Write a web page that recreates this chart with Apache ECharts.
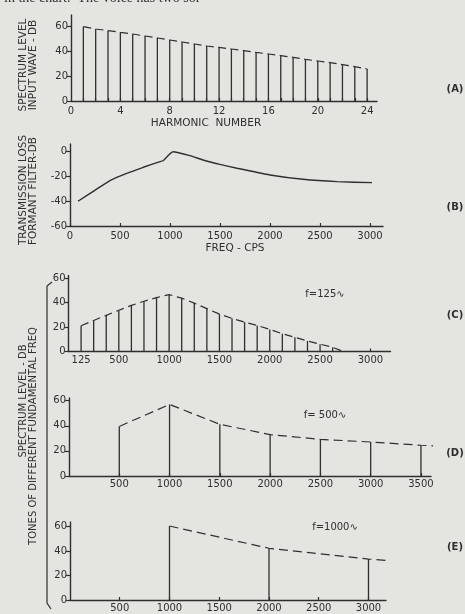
<!DOCTYPE html>
<html><head><meta charset="utf-8">
<script src="https://cdn.jsdelivr.net/npm/echarts@6/dist/echarts.min.js"></script>
<style>html,body{margin:0;padding:0;background:#e4e4e1;}#c{width:465px;height:614px;}</style>
</head><body><div id="c"></div>
<script>
// ---- data ----
const harmonicNumbers = [1,2,3,4,5,6,7,8,9,10,11,12,13,14,15,16,17,18,19,20,21,22,23,24];
const inputWaveDb = [59.5,57.6,56.3,54.9,53.6,52,50.4,48.8,47.2,45.6,44,42.9,41.6,40.3,38.9,37.6,36.3,34.9,33.3,32,30.7,29.1,27.5,25.6];
const harmonicTicks = [0,4,8,12,16,20,24];

const filterFreqCps = [80,233,400,567,733,900,930,1030,1200,1330,1500,1670,2000,2330,2670,3020];
const filterLossDb = [-40,-32,-23.3,-17.5,-12.6,-8,-7.3,0,-3.2,-6.7,-10.3,-13.4,-18.8,-22.3,-24.2,-25];
const filterFreqTicks = [0,500,1000,1500,2000,2500,3000];
const filterDbTicks = [-60,-40,-20,0];

const f125Freq = [125,250,375,500,625,750,875,1000,1125,1250,1375,1500,1625,1750,1875,2000,2125,2250,2375,2500,2625];
const f125Db = [21,25.3,29.5,33.6,37.6,41,44,46.4,43.5,39.5,35,30.5,27,24,21.2,18,14.5,11.6,8.6,6,3.4];
const f125EnvEnd = [2730, 0];
const f125Ticks = [125,500,1000,1500,2000,2500,3000];

const f500Freq = [500,1000,1500,2000,2500,3000,3500];
const f500Db = [39.5,57,41.2,33,29.2,27.1,24.5];
const f500EnvEnd = [3640, 24];
const f500Ticks = [500,1000,1500,2000,2500,3000,3500];

const f1000Freq = [1000,2000,3000];
const f1000Db = [60.5,42.3,33.5];
const f1000EnvEnd = [3400, 31];
const f1000Ticks = [500,1000,1500,2000,2500,3000];

const dbTicks = [0,20,40,60];

// ---- styling ----
const ink = '#2f2f2f';
const FONT = 'DejaVu Sans';
const chart = echarts.init(document.getElementById('c'), null, {renderer:'canvas'});

function pairs(xs, ys){ return xs.map((x,i)=>[x, ys[i]]); }
const plain = v => String(v);

function xAxisCfg(grid, min, max, labels, ticks, margin){
  return {type:'value', gridIndex:grid, min:min, max:max,
    axisLine:{show:true, onZero:false, lineStyle:{color:ink, width:1.4}},
    axisTick:{show:true, inside:true, length:3, customValues:ticks, lineStyle:{color:ink, width:1.2}},
    axisLabel:{customValues:labels, formatter:plain, color:ink, fontFamily:FONT, fontSize:10, margin:margin},
    splitLine:{show:false}};
}
function yAxisCfg(grid, min, max, labels){
  return {type:'value', gridIndex:grid, min:min, max:max,
    axisLine:{show:true, onZero:false, lineStyle:{color:ink, width:1.4}},
    axisTick:{show:true, inside:false, length:4, customValues:labels, lineStyle:{color:ink, width:1.2}},
    axisLabel:{customValues:labels, formatter:plain, color:ink, fontFamily:FONT, fontSize:10, margin:3},
    splitLine:{show:false}};
}
function stems(idx, data){
  return {type:'custom', xAxisIndex:idx, yAxisIndex:idx, data:data, silent:true,
    encode:{x:0, y:1},
    renderItem:function(params, api){
      const p0 = api.coord([api.value(0), 0]);
      const p1 = api.coord([api.value(0), api.value(1)]);
      return {type:'line', shape:{x1:p0[0], y1:p0[1], x2:p1[0], y2:p1[1]},
        style:{stroke:ink, lineWidth:1.3}};
    }};
}
function envelope(idx, data, dash){
  return {type:'line', xAxisIndex:idx, yAxisIndex:idx, data:data, showSymbol:false, silent:true,
    lineStyle:{color:ink, width:1.2, type:dash}};
}
function txt(x, y, s, size, rot, weight){
  return {type:'text', x:x, y:y, rotation:rot||0, silent:true,
    style:{text:s, fill:ink, font:(weight||'normal')+' '+size+'px "'+FONT+'"', textAlign:'center', textVerticalAlign:'middle'}};
}

const option = {
  backgroundColor:'#e4e4e1',
  animation:false,
  grid:[
    {left:71, top:15, width:306, height:86},
    {left:70, top:144, width:313, height:82},
    {left:68.5, top:275.5, width:322, height:76},
    {left:69, top:398, width:362, height:78},
    {left:70, top:522, width:316, height:78}
  ],
  xAxis:[
    xAxisCfg(0, 0, 24.8, harmonicTicks, harmonicNumbers, 5),
    xAxisCfg(1, 0, 3130, filterFreqTicks, filterFreqTicks, 5),
    xAxisCfg(2, 0, 3200, f125Ticks, [3000], 4),
    xAxisCfg(3, 0, 3600, f500Ticks, f500Ticks, 3),
    xAxisCfg(4, 0, 3176, f1000Ticks, f1000Ticks, 3)
  ],
  yAxis:[
    yAxisCfg(0, 0, 68.8, dbTicks),
    yAxisCfg(1, -60, 6.2, filterDbTicks),
    yAxisCfg(2, 0, 62, dbTicks),
    yAxisCfg(3, 0, 62.15, dbTicks),
    yAxisCfg(4, 0, 63.8, dbTicks)
  ],
  series:[
    stems(0, pairs(harmonicNumbers, inputWaveDb)),
    envelope(0, pairs(harmonicNumbers, inputWaveDb), [8,4.4]),
    {type:'line', xAxisIndex:1, yAxisIndex:1, data:pairs(filterFreqCps, filterLossDb), showSymbol:false,
      smooth:0.15, silent:true, lineStyle:{color:ink, width:1.4}},
    stems(2, pairs(f125Freq, f125Db)),
    envelope(2, pairs(f125Freq, f125Db).concat([f125EnvEnd]), [8,4.7]),
    stems(3, pairs(f500Freq, f500Db)),
    envelope(3, pairs(f500Freq, f500Db).concat([f500EnvEnd]), [9,5]),
    stems(4, pairs(f1000Freq, f1000Db)),
    envelope(4, pairs(f1000Freq, f1000Db).concat([f1000EnvEnd]), [9,5])
  ],
  graphic:[
    {type:'text', left:4, top:-9, silent:true,
      style:{text:'in the chart.  The voice has two sor-', fill:'#333', font:'14px "Liberation Serif"'}},
    txt(23, 65, 'SPECTRUM LEVEL', 10.5, Math.PI/2),
    txt(33, 65, 'INPUT WAVE - DB', 10.5, Math.PI/2),
    txt(206, 123, 'HARMONIC  NUMBER', 10.5),
    txt(23, 190, 'TRANSMISSION LOSS', 10.5, Math.PI/2),
    txt(33, 191, 'FORMANT FILTER-DB', 10.5, Math.PI/2),
    txt(235, 248, 'FREQ - CPS', 10.5),
    txt(23, 401, 'SPECTRUM LEVEL - DB', 10, Math.PI/2),
    txt(33, 436, 'TONES OF DIFFERENT FUNDAMENTAL FREQ', 10, Math.PI/2),
    {type:'polyline', silent:true, shape:{points:[[52,282],[47,286],[47,603],[51,609]]},
      style:{stroke:ink, lineWidth:1.2, fill:null}},
    txt(325, 294, 'f=125\u223F', 10),
    txt(325, 415, 'f= 500\u223F', 10),
    txt(335, 527, 'f=1000\u223F', 10),
    txt(455, 89, '(A)', 10, 0, 'bold'),
    txt(455, 207, '(B)', 10, 0, 'bold'),
    txt(455, 315, '(C)', 10, 0, 'bold'),
    txt(455, 453, '(D)', 10, 0, 'bold'),
    txt(455, 547, '(E)', 10, 0, 'bold')
  ]
};
chart.setOption(option);
</script></body></html>
